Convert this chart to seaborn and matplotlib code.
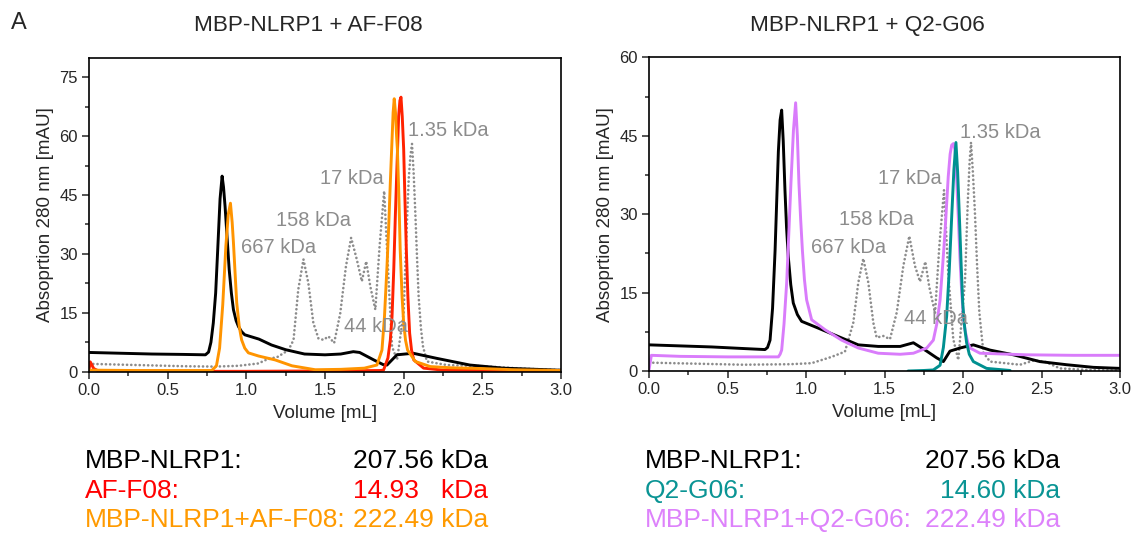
import numpy as np
import pandas as pd
import matplotlib
matplotlib.use("Agg")
import matplotlib.pyplot as plt
import seaborn as sns
from matplotlib.ticker import MultipleLocator, FormatStrFormatter

sns.set_style("ticks")
plt.rcParams['font.family'] = ['Liberation Sans', 'DejaVu Sans']

# ---- left panel: MBP-NLRP1 + AF-F08 ----
blackL_x = [0.0, 0.2, 0.4, 0.6, 0.74, 0.76, 0.775, 0.79, 0.805, 0.818, 0.833, 0.846, 0.855, 0.865, 0.878,
            0.891, 0.905, 0.918, 0.935, 0.95, 0.97, 0.99, 1.08, 1.16, 1.25, 1.37, 1.5, 1.6, 1.68, 1.72,
            1.81, 1.87, 1.894, 1.957, 2.06, 2.21, 2.42, 2.635, 2.98, 3.0]
blackL_y = [4.9, 4.7, 4.5, 4.4, 4.3, 5.0, 7.5, 12.4, 20, 31, 44, 49.8, 47, 42, 34,
            26, 20, 15.8, 13, 11.5, 10.2, 9.4, 8.3, 6.8, 5.6, 4.5, 4.3, 4.5, 5.1, 4.9,
            3.0, 1.8, 1.7, 4.3, 4.7, 3.4, 1.7, 0.9, 0.4, 0.4]

orangeL_x = [0.0, 0.3, 0.6, 0.78, 0.81, 0.83, 0.85, 0.87, 0.885, 0.899, 0.91, 0.918, 0.93, 0.939, 0.955,
             0.97, 0.99, 1.013, 1.077, 1.183, 1.29, 1.438, 1.6, 1.75, 1.83, 1.862, 1.878, 1.894, 1.905,
             1.915, 1.925, 1.933, 1.94, 1.948, 1.955, 1.96, 1.97, 1.978, 1.99, 2.0, 2.012, 2.025,
             2.074, 2.17, 2.3, 2.5, 2.7, 3.0]
orangeL_y = [0.4, 0.3, 0.3, 0.3, 1.5, 6, 17, 32, 40, 42.9, 38, 32.9, 24, 17.5, 11.5,
             8.1, 6.0, 4.8, 4.0, 3.0, 1.5, 0.5, 0.6, 0.9, 1.7, 5.5, 14, 26.8, 37,
             48, 58, 66, 69.5, 66, 60, 56.7, 44, 31, 19, 12.4, 8, 5.5,
             2.6, 1.3, 1.0, 0.8, 0.5, 0.3]

redL_x = [0.0, 0.008, 0.03, 0.06, 0.5, 1.0, 1.5, 1.85, 1.872, 1.9, 1.915, 1.926, 1.937, 1.947, 1.958,
          1.968, 1.976, 1.983, 1.991, 2.0, 2.008, 2.017, 2.027, 2.038, 2.05, 2.064, 2.127, 2.25, 2.5, 3.0]
redL_y = [0.5, 2.5, 0.8, 0.2, 0.1, 0.1, 0.2, 0.3, 0.4, 3.5, 8, 14, 26, 39.6, 53,
          65, 69, 69.9, 65, 56.7, 44, 31, 19, 9.8, 5.5, 3.0, 0.9, 0.4, 0.3, 0.3]

grayL_x = [0.0, 0.2, 0.4, 0.6, 0.8, 0.95, 1.076, 1.13, 1.2, 1.268, 1.3, 1.33, 1.363, 1.394, 1.426,
           1.458, 1.49, 1.522, 1.558, 1.597, 1.633, 1.666, 1.702, 1.734, 1.762, 1.788, 1.82, 1.847,
           1.876, 1.904, 1.926, 1.958, 2.0, 2.015, 2.032, 2.043, 2.053, 2.063, 2.074, 2.085, 2.095,
           2.11, 2.123, 2.148, 2.275, 2.5, 2.75, 3.0]
grayL_y = [2.0, 1.8, 1.6, 1.4, 1.3, 1.5, 2.1, 3.1, 3.8, 5.5, 8.1, 20.9, 28.6, 22.6, 12.4,
           8.5, 8.1, 9.0, 7.3, 14.9, 26.8, 34.1, 28.6, 23, 28.1, 21.7, 15.8, 32,
           46, 23.4, 6.4, 3.0, 15, 32, 49, 55, 58, 51, 40.5, 29, 19.2,
           11, 6.4, 2.6, 1.7, 1.4, 0.8, 0.4]

# ---- right panel: MBP-NLRP1 + Q2-G06 ----
blackR_x = [0.0, 0.2, 0.4, 0.6, 0.739, 0.755, 0.771, 0.787, 0.803, 0.814, 0.824, 0.835, 0.845, 0.855,
            0.866, 0.876, 0.887, 0.903, 0.919, 0.945, 0.972, 1.078, 1.205, 1.333, 1.46, 1.6, 1.684,
            1.769, 1.833, 1.875, 1.917, 1.981, 2.066, 2.172, 2.321, 2.49, 2.66, 2.83, 3.0]
blackR_y = [5.0, 4.8, 4.6, 4.3, 4.1, 4.5, 5.9, 12, 23, 33, 42, 48, 49.9, 44,
            34.6, 27.5, 21.9, 16.5, 13, 10.8, 9.5, 8.2, 6.6, 5.0, 4.7, 4.7, 5.4,
            3.8, 2.5, 1.8, 3.8, 4.4, 5.0, 4.0, 3.1, 1.8, 1.2, 0.7, 0.5]

violetR_x = [0.0, 0.015, 0.2, 0.5, 0.824, 0.835, 0.845, 0.86, 0.877, 0.89, 0.904, 0.92, 0.934, 0.945,
             0.955, 0.966, 0.977, 0.99, 1.004, 1.036, 1.121, 1.227, 1.333, 1.46, 1.6, 1.684, 1.769,
             1.811, 1.833, 1.854, 1.87, 1.885, 1.906, 1.918, 1.928, 1.939, 1.949, 1.96, 1.97, 1.98,
             1.991, 2.002, 2.013, 2.03, 2.045, 2.108, 2.4, 2.7, 3.0]
violetR_y = [0.2, 3.0, 2.8, 2.7, 2.7, 3.2, 4.0, 9, 16.9, 26, 35.9, 46, 51.3, 45,
             35.9, 29, 23.1, 17.5, 13.6, 9.8, 7.9, 5.9, 4.4, 3.4, 3.2, 3.4, 4.4,
             5.9, 9, 13.6, 20, 26.4, 37.2, 41.5, 43.2, 43.5, 42.3, 36.5, 29.5, 22,
             15.5, 10.5, 7.8, 5.5, 4.4, 3.4, 3.1, 3.0, 3.0]

tealR_x = [1.65, 1.75, 1.811, 1.854, 1.875, 1.896, 1.912, 1.928, 1.942, 1.955, 1.966, 1.977, 1.988,
           1.998, 2.01, 2.023, 2.04, 2.066, 2.15, 2.3]
tealR_y = [0.0, 0.1, 0.2, 1.1, 4.5, 10.5, 19, 29.5, 38.5, 43.7, 38, 29.5, 20.5,
           13.1, 8.5, 5.4, 3.2, 1.8, 0.5, 0.1]

grayR_x = [0.0, 0.3, 0.6, 0.9, 1.036, 1.163, 1.248, 1.301, 1.333, 1.365, 1.397, 1.429, 1.45, 1.492,
           1.535, 1.578, 1.62, 1.658, 1.694, 1.726, 1.76, 1.785, 1.822, 1.849, 1.879, 1.906, 1.938,
           1.97, 2.013, 2.03, 2.042, 2.051, 2.063, 2.076, 2.09, 2.104, 2.13, 2.172, 2.363, 2.45,
           2.52, 2.618, 2.8, 3.0]
grayR_y = [1.6, 1.4, 1.2, 1.3, 1.5, 2.7, 3.7, 9.2, 16.9, 21.5, 16.9, 9.2, 6.4, 6.7,
           6.1, 11.2, 20.1, 25.8, 20.1, 17.1, 20.9, 16.1, 11.1, 23.8, 34.6, 18.7, 6.1,
           2.1, 17.4, 32, 40, 43.7, 38, 30.3, 20, 11.2, 3.5, 1.8, 1.2, 2.0,
           1.8, 0.5, 0.2, 0.1]

# standards labels (text, x, y baseline)
stdL = [("1.35 kDa", 2.03, 60.0), ("17 kDa", 1.47, 47.9), ("158 kDa", 1.19, 37.1),
        ("667 kDa", 0.964, 30.2), ("44 kDa", 1.618, 10.0)]
stdR = [("1.35 kDa", 1.982, 44.6), ("17 kDa", 1.457, 35.7), ("158 kDa", 1.211, 27.9),
        ("667 kDa", 1.031, 22.5), ("44 kDa", 1.623, 9.0)]

C_BLACK = "#000000"
C_RED = "#ff2200"
C_ORANGE = "#ff9400"
C_TEAL = "#009090"
C_VIOLET = "#d97cfb"
C_GRAY = "#8c8c8c"

W, H = 1137, 539
fig = plt.figure(figsize=(W / 100, H / 100), dpi=100)


def px_axes(l, t, r, b):
    return fig.add_axes([l / W, 1 - b / H, (r - l) / W, (b - t) / H])


def draw(ax, x, y, color, dotted=False):
    df = pd.DataFrame({"x": x, "y": y})
    if dotted:
        sns.lineplot(data=df, x="x", y="y", ax=ax, color=color, lw=1.9, sort=False,
                     estimator=None, linestyle=(0, (0.05, 1.55)), dash_capstyle="round")
    else:
        sns.lineplot(data=df, x="x", y="y", ax=ax, color=color, lw=2.1, sort=False,
                     estimator=None, solid_joinstyle="round")


def style(ax, ymax):
    ax.set_xlim(0, 3.0)
    ax.set_ylim(0, ymax)
    ax.xaxis.set_major_locator(MultipleLocator(0.5))
    ax.xaxis.set_minor_locator(MultipleLocator(0.25))
    ax.yaxis.set_major_locator(MultipleLocator(15))
    ax.yaxis.set_minor_locator(MultipleLocator(7.5))
    ax.xaxis.set_major_formatter(FormatStrFormatter("%.1f"))
    ax.tick_params(which="major", length=5, width=1.1, labelsize=12, direction="out", pad=3)
    ax.tick_params(which="minor", length=3, width=1.1, direction="out")
    for s in ax.spines.values():
        s.set_visible(True)
        s.set_linewidth(1.2)
        s.set_color("black")
    ax.set_xlabel("Volume [mL]", fontsize=13.5, labelpad=5)
    ax.set_ylabel("Absoprtion 280 nm [mAU]", fontsize=13.5, labelpad=4)


axL = px_axes(89, 57.5, 561, 371.7)
draw(axL, grayL_x, grayL_y, C_GRAY, dotted=True)
draw(axL, blackL_x, blackL_y, C_BLACK)
draw(axL, redL_x, redL_y, C_RED)
draw(axL, orangeL_x, orangeL_y, C_ORANGE)
style(axL, 80)
for t, x, y in stdL:
    axL.text(x, y, t, color=C_GRAY, fontsize=14.5, ha="left", va="baseline")

axR = px_axes(649, 57.3, 1120, 371)
draw(axR, grayR_x, grayR_y, C_GRAY, dotted=True)
draw(axR, blackR_x, blackR_y, C_BLACK)
draw(axR, violetR_x, violetR_y, C_VIOLET)
draw(axR, tealR_x, tealR_y, C_TEAL)
style(axR, 60)
for t, x, y in stdR:
    axR.text(x, y, t, color=C_GRAY, fontsize=14.5, ha="left", va="baseline")


def ftext(x, y, s, **kw):
    fig.text(x / W, 1 - y / H, s, va="baseline", **kw)


ftext(11, 29, "A", fontsize=17)
ftext(308, 31, "MBP-NLRP1 + AF-F08", fontsize=16.2, ha="center")
ftext(867, 31, "MBP-NLRP1 + Q2-G06", fontsize=16.2, ha="center")

rows = [467.7, 498.3, 527]
left_names = ["MBP-NLRP1:", "AF-F08:", "MBP-NLRP1+AF-F08:"]
left_vals = ["207.56 kDa", "14.93   kDa", "222.49 kDa"]
left_cols = ["#000000", "#ff0000", "#ff9a00"]
right_names = ["MBP-NLRP1:", "Q2-G06:", "MBP-NLRP1+Q2-G06:"]
right_vals = ["207.56 kDa", "14.60 kDa", "222.49 kDa"]
right_cols = ["#000000", "#0a9494", "#dd82fb"]

for y, n, v, c in zip(rows, left_names, left_vals, left_cols):
    ftext(85, y, n, fontsize=19, color=c, ha="left")
    ftext(353, y, v, fontsize=19, color=c, ha="left")
for y, n, v, c in zip(rows, right_names, right_vals, right_cols):
    ftext(645, y, n, fontsize=19, color=c, ha="left")
    ftext(1060, y, v, fontsize=19, color=c, ha="right")

fig.savefig("out.png", dpi=100)
